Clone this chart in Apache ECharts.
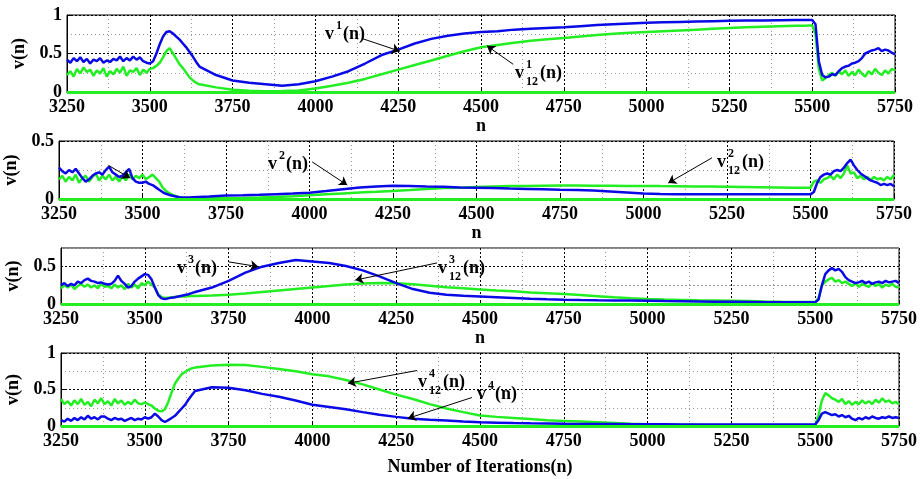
<!DOCTYPE html>
<html><head><meta charset="utf-8">
<script src="https://cdn.jsdelivr.net/npm/echarts@6/dist/echarts.min.js"></script>
<style>html,body{margin:0;padding:0;background:#fff}#c{width:921px;height:479px}</style>
</head><body><div id="c"></div>
<script>
// sample positions (iterations n)
const X = [3250,3260,3270,3280,3290,3300,3310,3320,3330,3340,3350,3360,3370,3380,3390,3400,3410,3420,3430,3440,
  3450,3460,3470,3480,3490,3500,3510,3520,3530,3540,3550,3560,3570,3580,3590,3600,3610,3620,3630,3640,3650,
  3700,3750,3800,3850,3900,3950,4000,4050,4100,4150,4200,4250,4300,4350,4400,4450,4500,4550,4600,4650,4700,
  4750,4800,4850,4900,4950,5000,5050,5100,5150,5200,5250,5300,5350,5400,5450,
  5480,5490,5500,5510,5520,5530,5540,5550,5560,5570,5580,5590,5600,5610,5620,5630,5640,5650,5660,5670,5680,
  5690,5700,5710,5720,5730,5740,5750];

// subplot 1
const B1 = [0.42,0.38,0.44,0.40,0.45,0.39,0.43,0.37,0.42,0.40, 0.44,0.38,0.41,0.39,0.43,0.41,0.46,0.40,0.44,0.41,
  0.46,0.42,0.45,0.40,0.38,0.37,0.40,0.50,0.62,0.72, 0.78,0.79,0.76,0.72,0.68,0.63,0.58,0.52,0.46,0.39, 0.33,
  0.22,0.15,0.12,0.10,0.08,0.10,0.14,0.20,0.27,0.37, 0.48,0.55,0.63,0.69,0.73,0.76,0.78,0.79,0.81,0.82,
  0.83,0.84,0.855,0.87,0.88,0.89,0.90,0.905,0.91,0.915, 0.92,0.925,0.93,0.93,0.932,0.934,
  0.935,0.935,0.935,0.88,0.40,0.22,0.19,0.20,0.23,0.22, 0.27,0.31,0.33,0.34,0.37,0.38,0.40,0.44,0.50,0.52,
  0.54,0.55,0.57,0.53,0.55,0.54,0.51,0.49];
const G1 = [0.22,0.27,0.20,0.30,0.24,0.32,0.26,0.29,0.21,0.28, 0.24,0.31,0.20,0.27,0.23,0.30,0.25,0.33,0.21,0.28,
  0.26,0.31,0.22,0.29,0.25,0.30,0.31,0.34,0.38,0.45, 0.53,0.57,0.50,0.43,0.36,0.31,0.25,0.19,0.15,0.12, 0.10,
  0.06,0.03,0.015,0.01,0.012,0.02,0.045,0.08,0.12,0.17, 0.23,0.29,0.35,0.41,0.47,0.53,0.58,0.61,0.64,0.665,
  0.685,0.70,0.72,0.74,0.755,0.77,0.78,0.79,0.80,0.81, 0.82,0.83,0.84,0.848,0.855,0.86,
  0.862,0.864,0.865,0.75,0.30,0.15,0.18,0.22,0.25,0.21, 0.27,0.23,0.28,0.21,0.26,0.22,0.29,0.24,0.20,0.27,
  0.23,0.30,0.25,0.22,0.28,0.24,0.30,0.28];

// subplot 2
const B2 = [0.27,0.24,0.22,0.25,0.23,0.26,0.22,0.18,0.15,0.17, 0.20,0.22,0.23,0.21,0.25,0.28,0.23,0.21,0.19,0.20,
  0.23,0.26,0.18,0.15,0.14,0.14,0.15,0.13,0.12,0.10, 0.08,0.06,0.045,0.035,0.028,0.022,0.015,0.012,0.012,0.014, 0.016,
  0.022,0.03,0.033,0.037,0.042,0.047,0.053,0.068,0.085,0.10, 0.108,0.115,0.112,0.108,0.105,0.10,0.097,0.094,0.09,0.087,
  0.084,0.08,0.077,0.073,0.065,0.056,0.047,0.043,0.041,0.04, 0.04,0.04,0.04,0.04,0.04,0.04,
  0.04,0.04,0.04,0.06,0.14,0.19,0.21,0.22,0.21,0.24, 0.25,0.24,0.27,0.31,0.34,0.29,0.25,0.22,0.20,0.18,
  0.16,0.15,0.14,0.12,0.13,0.12,0.13,0.11];
const G2 = [0.17,0.20,0.15,0.19,0.16,0.21,0.14,0.18,0.20,0.15, 0.19,0.22,0.16,0.20,0.17,0.21,0.16,0.19,0.15,0.20,
  0.16,0.21,0.17,0.20,0.18,0.21,0.17,0.19,0.21,0.18, 0.15,0.10,0.07,0.05,0.035,0.025,0.015,0.01,0.008,0.006, 0.005,
  0.006,0.007,0.009,0.012,0.017,0.024,0.032,0.04,0.048,0.055, 0.062,0.07,0.078,0.087,0.095,0.098,0.104,0.108,0.111,0.113,
  0.115,0.116,0.116,0.115,0.114,0.113,0.113,0.111,0.11,0.108, 0.107,0.105,0.103,0.101,0.099,0.097,
  0.096,0.096,0.096,0.15,0.16,0.14,0.17,0.18,0.20,0.17, 0.21,0.18,0.22,0.29,0.22,0.23,0.18,0.20,0.17,0.19,
  0.16,0.19,0.17,0.18,0.16,0.19,0.17,0.21];

// subplot 3
const B3 = [0.25,0.28,0.24,0.27,0.25,0.30,0.28,0.32,0.34,0.31, 0.30,0.28,0.29,0.27,0.26,0.27,0.31,0.38,0.31,0.27,
  0.22,0.24,0.30,0.34,0.37,0.40,0.39,0.33,0.22,0.12, 0.075,0.065,0.075,0.085,0.09,0.10,0.11,0.12,0.13,0.145, 0.16,
  0.22,0.31,0.42,0.50,0.55,0.59,0.57,0.55,0.51,0.45, 0.37,0.28,0.20,0.15,0.125,0.11,0.10,0.09,0.08,0.07,
  0.063,0.057,0.053,0.05,0.048,0.046,0.044,0.04,0.037,0.034, 0.031,0.029,0.027,0.025,0.023,0.022,
  0.022,0.022,0.022,0.06,0.25,0.40,0.45,0.48,0.45,0.47, 0.43,0.36,0.32,0.30,0.28,0.29,0.31,0.28,0.30,0.27,
  0.29,0.30,0.28,0.31,0.29,0.30,0.31,0.28];
const G3 = [0.21,0.25,0.22,0.26,0.20,0.24,0.27,0.23,0.26,0.22, 0.25,0.21,0.27,0.23,0.24,0.21,0.26,0.22,0.25,0.20,
  0.27,0.22,0.26,0.21,0.28,0.25,0.30,0.26,0.22,0.13, 0.09,0.08,0.085,0.09,0.095,0.10,0.10,0.102,0.104,0.106, 0.108,
  0.115,0.125,0.14,0.16,0.18,0.20,0.22,0.24,0.26,0.275, 0.28,0.277,0.265,0.245,0.225,0.21,0.195,0.18,0.17,0.155,
  0.145,0.135,0.12,0.105,0.09,0.078,0.067,0.06,0.055,0.05, 0.047,0.044,0.04,0.035,0.031,0.028,
  0.027,0.027,0.027,0.08,0.25,0.30,0.33,0.35,0.30,0.32, 0.28,0.30,0.27,0.24,0.28,0.23,0.27,0.25,0.23,0.28,
  0.24,0.27,0.22,0.26,0.24,0.27,0.23,0.22];

// subplot 4
const B4 = [0.08,0.06,0.10,0.07,0.11,0.08,0.12,0.09,0.14,0.10, 0.12,0.09,0.13,0.13,0.10,0.08,0.11,0.09,0.10,0.07,
  0.09,0.11,0.08,0.10,0.09,0.12,0.10,0.12,0.17,0.13, 0.08,0.055,0.08,0.11,0.14,0.19,0.24,0.29,0.36,0.42, 0.48,
  0.53,0.525,0.49,0.44,0.40,0.35,0.29,0.26,0.23,0.19, 0.155,0.125,0.10,0.085,0.075,0.06,0.05,0.045,0.04,0.036,
  0.033,0.03,0.028,0.027,0.026,0.025,0.024,0.023,0.022,0.022, 0.021,0.02,0.02,0.02,0.02,0.02,
  0.02,0.02,0.02,0.08,0.17,0.19,0.17,0.15,0.16,0.13, 0.15,0.12,0.14,0.10,0.08,0.11,0.09,0.12,0.10,0.13,
  0.11,0.10,0.12,0.11,0.13,0.11,0.12,0.11];
const G4 = [0.37,0.30,0.34,0.28,0.35,0.30,0.37,0.29,0.33,0.27, 0.36,0.31,0.38,0.30,0.34,0.28,0.37,0.31,0.35,0.29,
  0.33,0.30,0.36,0.31,0.30,0.32,0.30,0.28,0.24,0.21, 0.20,0.23,0.33,0.46,0.58,0.65,0.71,0.74,0.77,0.79, 0.80,
  0.83,0.84,0.835,0.81,0.78,0.75,0.71,0.68,0.63,0.57, 0.50,0.43,0.37,0.30,0.24,0.19,0.145,0.125,0.11,0.095,
  0.08,0.07,0.06,0.05,0.04,0.03,0.023,0.02,0.018,0.016, 0.015,0.015,0.014,0.013,0.012,0.012,
  0.012,0.012,0.012,0.15,0.35,0.45,0.42,0.38,0.36,0.33, 0.37,0.30,0.34,0.29,0.33,0.30,0.35,0.31,0.34,0.30,
  0.36,0.32,0.38,0.33,0.35,0.31,0.33,0.30];

const X_MIN = 3250, X_MAX = 5750, X_STEP = 250;
const Y_MAX = [1, 0.5, 0.75, 1];
const X_NAMES = ['n', 'n', 'n', 'Number of Iterations(n)'];
const Y_NAME = 'v(n)';

// annotations (data coordinates): label start and sup/sub text
const LABELS = [
  {g:0, x:4029, y:0.75, sup:'1', sub:''},
  {g:0, x:4603, y:0.25, sup:'1', sub:'12'},
  {g:1, x:3877, y:0.30, sup:'2', sub:''},
  {g:1, x:5220, y:0.32, sup:'2', sub:'12'},
  {g:2, x:3597, y:0.485, sup:'3', sub:''},
  {g:2, x:4375, y:0.485, sup:'3', sub:'12'},
  {g:3, x:4315, y:0.60, sup:'4', sub:'12'},
  {g:3, x:4491, y:0.435, sup:'4', sub:''}
];
const ARROWS = [
  {g:0, from:[4144,0.69], to:[4255,0.53]},
  {g:0, from:[4597,0.36], to:[4518,0.60]},
  {g:1, from:[4008,0.32], to:[4113,0.12]},
  {g:1, from:[3398,0.29], to:[3463,0.18]},
  {g:1, from:[5205,0.355], to:[5074,0.137]},
  {g:2, from:[3749,0.565], to:[3839,0.50]},
  {g:2, from:[4372,0.55], to:[4128,0.32]},
  {g:3, from:[4312,0.76], to:[4106,0.585]},
  {g:3, from:[4476,0.39], to:[4285,0.105]}
];

const BLUES = [B1, B2, B3, B4];
const GREENS = [G1, G2, G3, G4];

const FONT = '"Liberation Serif","Times New Roman",serif';
const BLUE = '#0a0ae6';
const GREEN = '#22ee22';
const TXT = {fontFamily: FONT, fontWeight: 'bold', fontSize: 18, color: '#000'};

const GRIDS = [
  {left:67, right:26, top:15, height:77},
  {left:59, right:27, top:141, height:58},
  {left:61, right:22, top:248, height:56},
  {left:61, right:22, top:353, height:73}
];
const X_GAP = [21, 21, 21, 32];
const Y_GAP = [31, 34, 36, 36];

const chart = echarts.init(document.getElementById('c'), null, {renderer: 'canvas', width: 921, height: 479});

const grid = GRIDS.map(g => Object.assign({show: true, borderColor: '#000', borderWidth: 1, backgroundColor: '#fff', outerBoundsMode: 'none', containLabel: false}, g));

const xAxis = GRIDS.map((g, i) => ({
  type: 'value', gridIndex: i, min: X_MIN, max: X_MAX, interval: X_STEP,
  name: X_NAMES[i], nameLocation: 'middle', nameGap: X_GAP[i], nameTextStyle: TXT,
  axisLine: {show: true, onZero: false, lineStyle: {color: '#000', width: 1}},
  axisTick: {show: true, inside: true, length: 4, lineStyle: {color: '#000'}},
  axisLabel: Object.assign({margin: 6, hideOverlap: false, formatter: v => String(v)}, TXT),
  splitLine: {show: true, lineStyle: {color: '#000', type: [2, 2], width: 1}},
  minorTick: {show: false, splitNumber: 2},
  minorSplitLine: {show: true, lineStyle: {color: '#9a9a9a', type: [1, 3], width: 1}}
}));

const yAxis = GRIDS.map((g, i) => {
  const base = {
    type: 'value', gridIndex: i, min: 0, max: Y_MAX[i],
    name: Y_NAME, nameLocation: 'middle', nameGap: Y_GAP[i], nameRotate: 90, nameTextStyle: TXT,
    axisLine: {show: true, onZero: false, lineStyle: {color: '#000', width: 1}},
    axisTick: {show: true, inside: true, length: 4, lineStyle: {color: '#000'}},
    axisLabel: Object.assign({margin: 5}, TXT)
  };
  if (i === 2) {
    base.interval = 0.25;
    base.axisLabel.formatter = v => (Math.abs(v) < 1e-9 || Math.abs(v - 0.5) < 1e-9) ? String(v) : '';
    base.axisTick.show = false;
    base.splitLine = {show: true, lineStyle: {color: ['#000', '#9a9a9a'], type: [2, 2], width: 1}};
  } else {
    base.interval = 0.5;
    base.splitLine = {show: true, lineStyle: {color: '#000', type: [2, 2], width: 1}};
    base.minorTick = {show: false, splitNumber: 2};
    base.minorSplitLine = {show: true, lineStyle: {color: '#9a9a9a', type: [1, 3], width: 1}};
  }
  return base;
});

const series = [];
GRIDS.forEach((g, i) => {
  series.push({
    type: 'line', xAxisIndex: i, yAxisIndex: i, z: 3,
    data: X.map((x, k) => [x, GREENS[i][k]]),
    showSymbol: false, symbol: 'none', lineStyle: {color: GREEN, width: 2.5}, itemStyle: {color: GREEN},
    animation: false, silent: true,
    markLine: {silent: true, symbol: ['none', 'none'], animation: false, label: {show: false},
      lineStyle: {color: GREEN, width: 3, type: 'solid'}, data: [{yAxis: 0}]}
  });
  series.push({
    type: 'line', xAxisIndex: i, yAxisIndex: i, z: 4,
    data: X.map((x, k) => [x, BLUES[i][k]]),
    showSymbol: false, symbol: 'none', lineStyle: {color: BLUE, width: 2.5}, itemStyle: {color: BLUE},
    animation: false, silent: true,
    markLine: {silent: true, symbol: ['none', 'arrow'], symbolSize: 8, animation: false, label: {show: false},
      lineStyle: {color: '#000', width: 1, type: 'solid'},
      data: ARROWS.filter(a => a.g === i).map(a => [{coord: a.from}, {coord: a.to}])}
  });
});

chart.setOption({animation: false, grid, xAxis, yAxis, series});

function txt(s, x, y, size) {
  return {type: 'text', x: Math.round(x), y: Math.round(y), silent: true, z: 100,
    style: {text: s, font: 'bold ' + size + 'px ' + FONT, fill: '#000',
      textAlign: 'left', textVerticalAlign: 'middle', align: 'left', verticalAlign: 'middle'}};
}
const els = [];
LABELS.forEach(L => {
  const p = chart.convertToPixel({gridIndex: L.g}, [L.x, L.y]);
  const px = p[0], py = p[1];
  els.push(txt('v', px, py, 18));
  els.push(txt(L.sup, px + 11, py - 8, 12));
  let w = 7;
  if (L.sub) { els.push(txt(L.sub, px + 11, py + 9, 12)); w = 14; }
  els.push(txt('(n)', px + 11 + w, py, 18));
});
chart.setOption({graphic: {elements: els}});
</script></body></html>
